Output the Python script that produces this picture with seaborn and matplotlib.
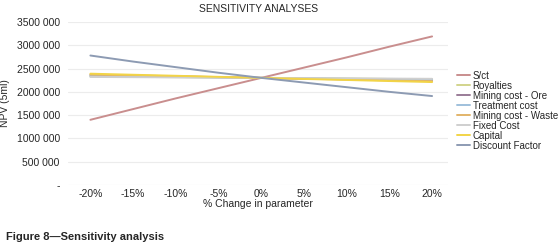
import matplotlib
matplotlib.use("Agg")
import matplotlib.pyplot as plt
import matplotlib.ticker as mticker
import pandas as pd
import seaborn as sns

# % change in parameter
changes = [-20, -15, -10, -5, 0, 5, 10, 15, 20]
change_labels = ["-20%", "-15%", "-10%", "-5%", "0%", "5%", "10%", "15%", "20%"]

# NPV values
sct = [1400000, 1630000, 1860000, 2080000, 2300000, 2520000, 2740000, 2970000, 3190000]
royalties = [2330000, 2322000, 2315000, 2307000, 2300000, 2292000, 2285000, 2277000, 2270000]
mining_ore = [2360000, 2345000, 2330000, 2315000, 2300000, 2285000, 2270000, 2255000, 2240000]
treatment = [2340000, 2330000, 2320000, 2310000, 2300000, 2290000, 2280000, 2270000, 2260000]
mining_waste = [2370000, 2352000, 2335000, 2317000, 2300000, 2282000, 2265000, 2247000, 2230000]
fixed_cost = [2320000, 2315000, 2310000, 2305000, 2300000, 2295000, 2290000, 2285000, 2280000]
capital = [2390000, 2367000, 2345000, 2322000, 2300000, 2277000, 2255000, 2232000, 2210000]
discount = [2780000, 2650000, 2530000, 2410000, 2300000, 2200000, 2100000, 2000000, 1910000]

series = {
    "S/ct": sct,
    "Royalties": royalties,
    "Mining cost - Ore": mining_ore,
    "Treatment cost": treatment,
    "Mining cost - Waste": mining_waste,
    "Fixed Cost": fixed_cost,
    "Capital": capital,
    "Discount Factor": discount,
}
colors = ["#c98e8e", "#d2d48c", "#9a7c98", "#9fc0dc",
          "#e2b46a", "#cfcfcf", "#f2d447", "#8d9bb3"]

rows = []
for name, vals in series.items():
    for c, v in zip(changes, vals):
        rows.append({"change": c, "npv": v, "param": name})
df = pd.DataFrame(rows)

sns.set_style("white")
plt.rcParams["font.family"] = ["Liberation Sans", "DejaVu Sans"]

fig = plt.figure(figsize=(5.59, 2.47), dpi=100)
ax = fig.add_axes([0.122, 0.251, 0.68, 0.66])

sns.lineplot(data=df, x="change", y="npv", hue="param", palette=colors,
             linewidth=1.4, ax=ax)

ax.set_xlim(-22.6, 21.9)
ax.set_ylim(0, 3500000)
ax.set_xticks(changes)
ax.set_xticklabels(change_labels)
ax.yaxis.set_major_locator(mticker.MultipleLocator(500000))

def fmt(v, pos):
    v = int(round(v))
    if v == 0:
        return "-"
    return f"{v // 1000} {v % 1000:03d}"

ax.yaxis.set_major_formatter(mticker.FuncFormatter(fmt))
ax.grid(axis="y", color="#ececec", linewidth=0.8)
for s in ax.spines.values():
    s.set_visible(False)
ax.tick_params(axis="both", labelsize=7.5, length=0)
ax.tick_params(axis="x", pad=3)
ax.tick_params(axis="y", pad=6)

ax.set_xlabel("% Change in parameter", fontsize=7.5, labelpad=0)
ax.set_ylabel("NPV (5ml)", fontsize=7.5, labelpad=5)
ax.set_title("SENSITIVITY ANALYSES", fontsize=7.5, pad=7)

ax.legend(loc="upper left", bbox_to_anchor=(1.01, 0.73), frameon=False,
          fontsize=7, handlelength=1.3, handletextpad=0.3,
          labelspacing=0.0, borderpad=0)

fig.text(0.01, 0.03, "Figure 8\u2014Sensitivity analysis", fontsize=8,
         fontweight="bold")

fig.savefig("out.png", dpi=100)
